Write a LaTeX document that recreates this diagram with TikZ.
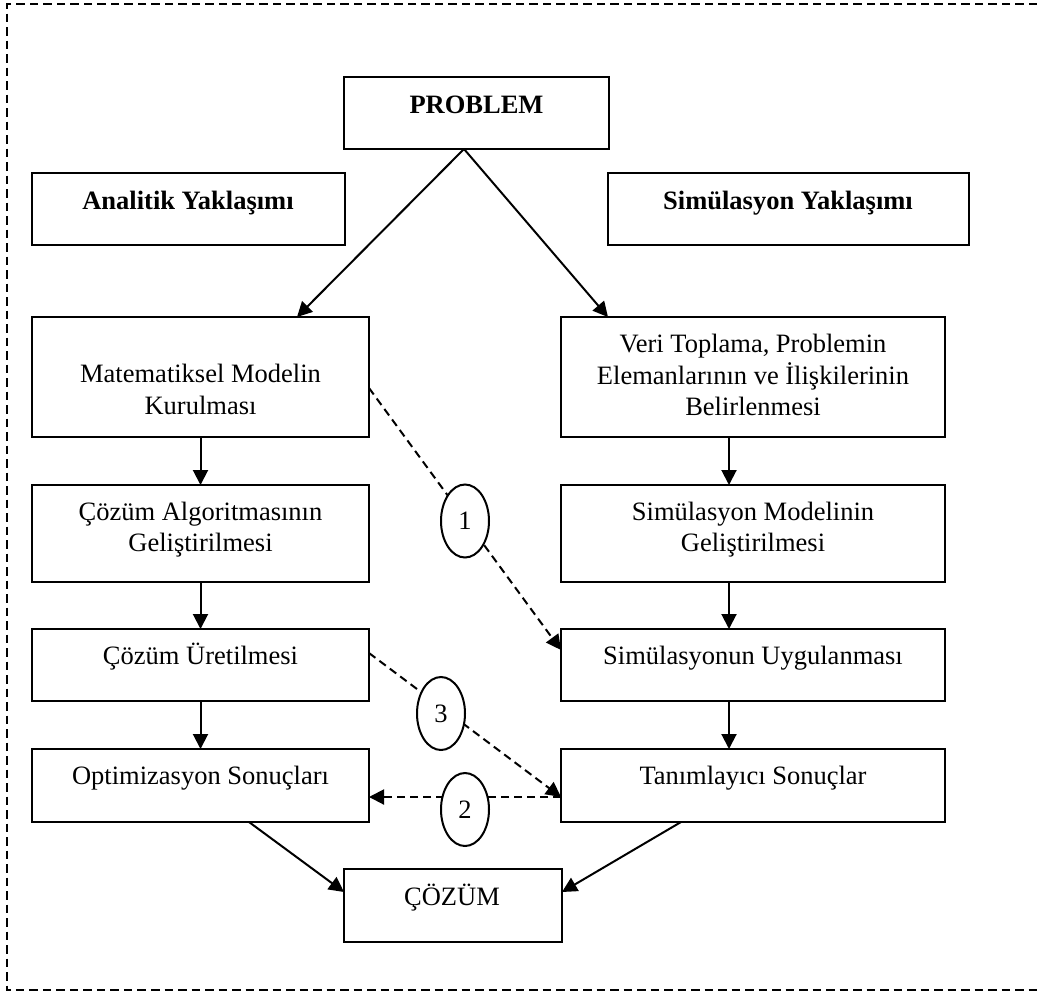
\documentclass[tikz,border=0pt]{standalone}
\usepackage{fontspec}
\setmainfont{Liberation Serif}
\usetikzlibrary{arrows.meta,shapes.geometric}
\begin{document}
\begin{tikzpicture}[x=1pt,y=-1pt,
  box/.style={draw,line width=2pt,inner sep=0pt,outer sep=0pt},
  txt/.style={inner sep=0pt,font=\fontsize{26.5}{31.5}\selectfont,align=center},
  btxt/.style={txt,font=\fontsize{26.5}{31.5}\selectfont\bfseries},
  arr/.style={line width=2pt,-{Triangle[length=15pt,width=15pt]}},
  darr/.style={arr,dash pattern=on 8pt off 5pt},
  num/.style={ellipse,draw,fill=white,line width=2pt,minimum width=48pt,
    minimum height=73pt,inner sep=0pt,font=\fontsize{26.5}{31.5}\selectfont},
  frame/.style={line width=2pt,dash pattern=on 8.5pt off 5pt}]
\useasboundingbox (0,0) rectangle (1037,994);

% dashed outer frame (open towards the right edge)
\draw[frame] (1037,4) -- (7,4) -- (7,990) -- (1037,990);

% boxes
\node[box,minimum width=265pt,minimum height=72pt] (prob) at (476.5,113) {};
\node[box,minimum width=313pt,minimum height=72pt] (ana)  at (188.5,209) {};
\node[box,minimum width=361pt,minimum height=72pt] (sim)  at (788.5,209) {};
\node[box,minimum width=337pt,minimum height=120pt] (mat) at (200.5,377) {};
\node[box,minimum width=384pt,minimum height=120pt] (veri) at (753,377) {};
\node[box,minimum width=337pt,minimum height=97pt] (alg)  at (200.5,533.5) {};
\node[box,minimum width=384pt,minimum height=97pt] (smod) at (753,533.5) {};
\node[box,minimum width=337pt,minimum height=72pt] (ure)  at (200.5,665) {};
\node[box,minimum width=384pt,minimum height=72pt] (uyg)  at (753,665) {};
\node[box,minimum width=337pt,minimum height=73pt] (opt)  at (200.5,785.5) {};
\node[box,minimum width=384pt,minimum height=73pt] (tan)  at (753,785.5) {};
\node[box,minimum width=218pt,minimum height=73pt] (coz)  at (453,905.5) {};

% box texts
\node[btxt,anchor=base] (tprob) at (476.5,113) {PROBLEM};
\node[btxt,anchor=base] (tana) at (188,209) {Analitik Yaklaşımı};
\node[btxt,anchor=base] (tsim) at (788,209) {Simülasyon Yaklaşımı};
\node[txt,anchor=north] (tmat) at (200.5,360.65) {\strut Matematiksel Modelin\\\strut Kurulması};
\node[txt,anchor=north] (tveri) at (753,330.65) {\strut Veri Toplama, Problemin\\\strut Elemanlarının ve İlişkilerinin\\\strut Belirlenmesi};
\node[txt,anchor=north] (talg) at (200.5,497.95) {\strut Çözüm Algoritmasının\\\strut Geliştirilmesi};
\node[txt,anchor=north] (tsmod) at (753,497.95) {\strut Simülasyon Modelinin\\\strut Geliştirilmesi};
\node[txt,anchor=base] (ture) at (200.5,664.3) {Çözüm Üretilmesi};
\node[txt,anchor=base] (tuyg) at (753,664.3) {Simülasyonun Uygulanması};
\node[txt,anchor=base] (topt) at (200.5,784.3) {Optimizasyon Sonuçları};
\node[txt,anchor=base] (ttan) at (753,784.3) {Tanımlayıcı Sonuçlar};
\node[txt,anchor=base] (tcoz) at (452,905) {ÇÖZÜM};

% solid connectors
\draw[arr] ([xshift=-12.5pt]prob.south) -- ([xshift=96.5pt]mat.north);
\draw[arr] ([xshift=-12.5pt]prob.south) -- ([xshift=-145pt]veri.north);
\draw[arr] (mat.south) -- (alg.north);
\draw[arr] (alg.south) -- (ure.north);
\draw[arr] (ure.south) -- (opt.north);
\draw[arr] ([xshift=-24pt]veri.south) -- ([xshift=-24pt]smod.north);
\draw[arr] ([xshift=-24pt]smod.south) -- ([xshift=-24pt]uyg.north);
\draw[arr] ([xshift=-24pt]uyg.south) -- ([xshift=-24pt]tan.north);
\draw[arr] ([xshift=48.5pt]opt.south) -- ([yshift=13.5pt]coz.west);
\draw[arr] ([xshift=-72pt]tan.south) -- ([yshift=13.5pt]coz.east);

% dashed connectors
\draw[darr] ([yshift=-11pt]mat.east) -- ([yshift=15pt]uyg.west);
\draw[darr] ([yshift=12pt]ure.east) -- ([yshift=-11.5pt]tan.west);
\draw[darr] ([yshift=-11.5pt]tan.west) -- ([yshift=-11.5pt]opt.east);

% numbered ellipses
\node[num] (n1) at (465,521) {1};
\node[num] (n3) at (441,713.5) {3};
\node[num] (n2) at (465,809.5) {2};
\end{tikzpicture}
\end{document}
